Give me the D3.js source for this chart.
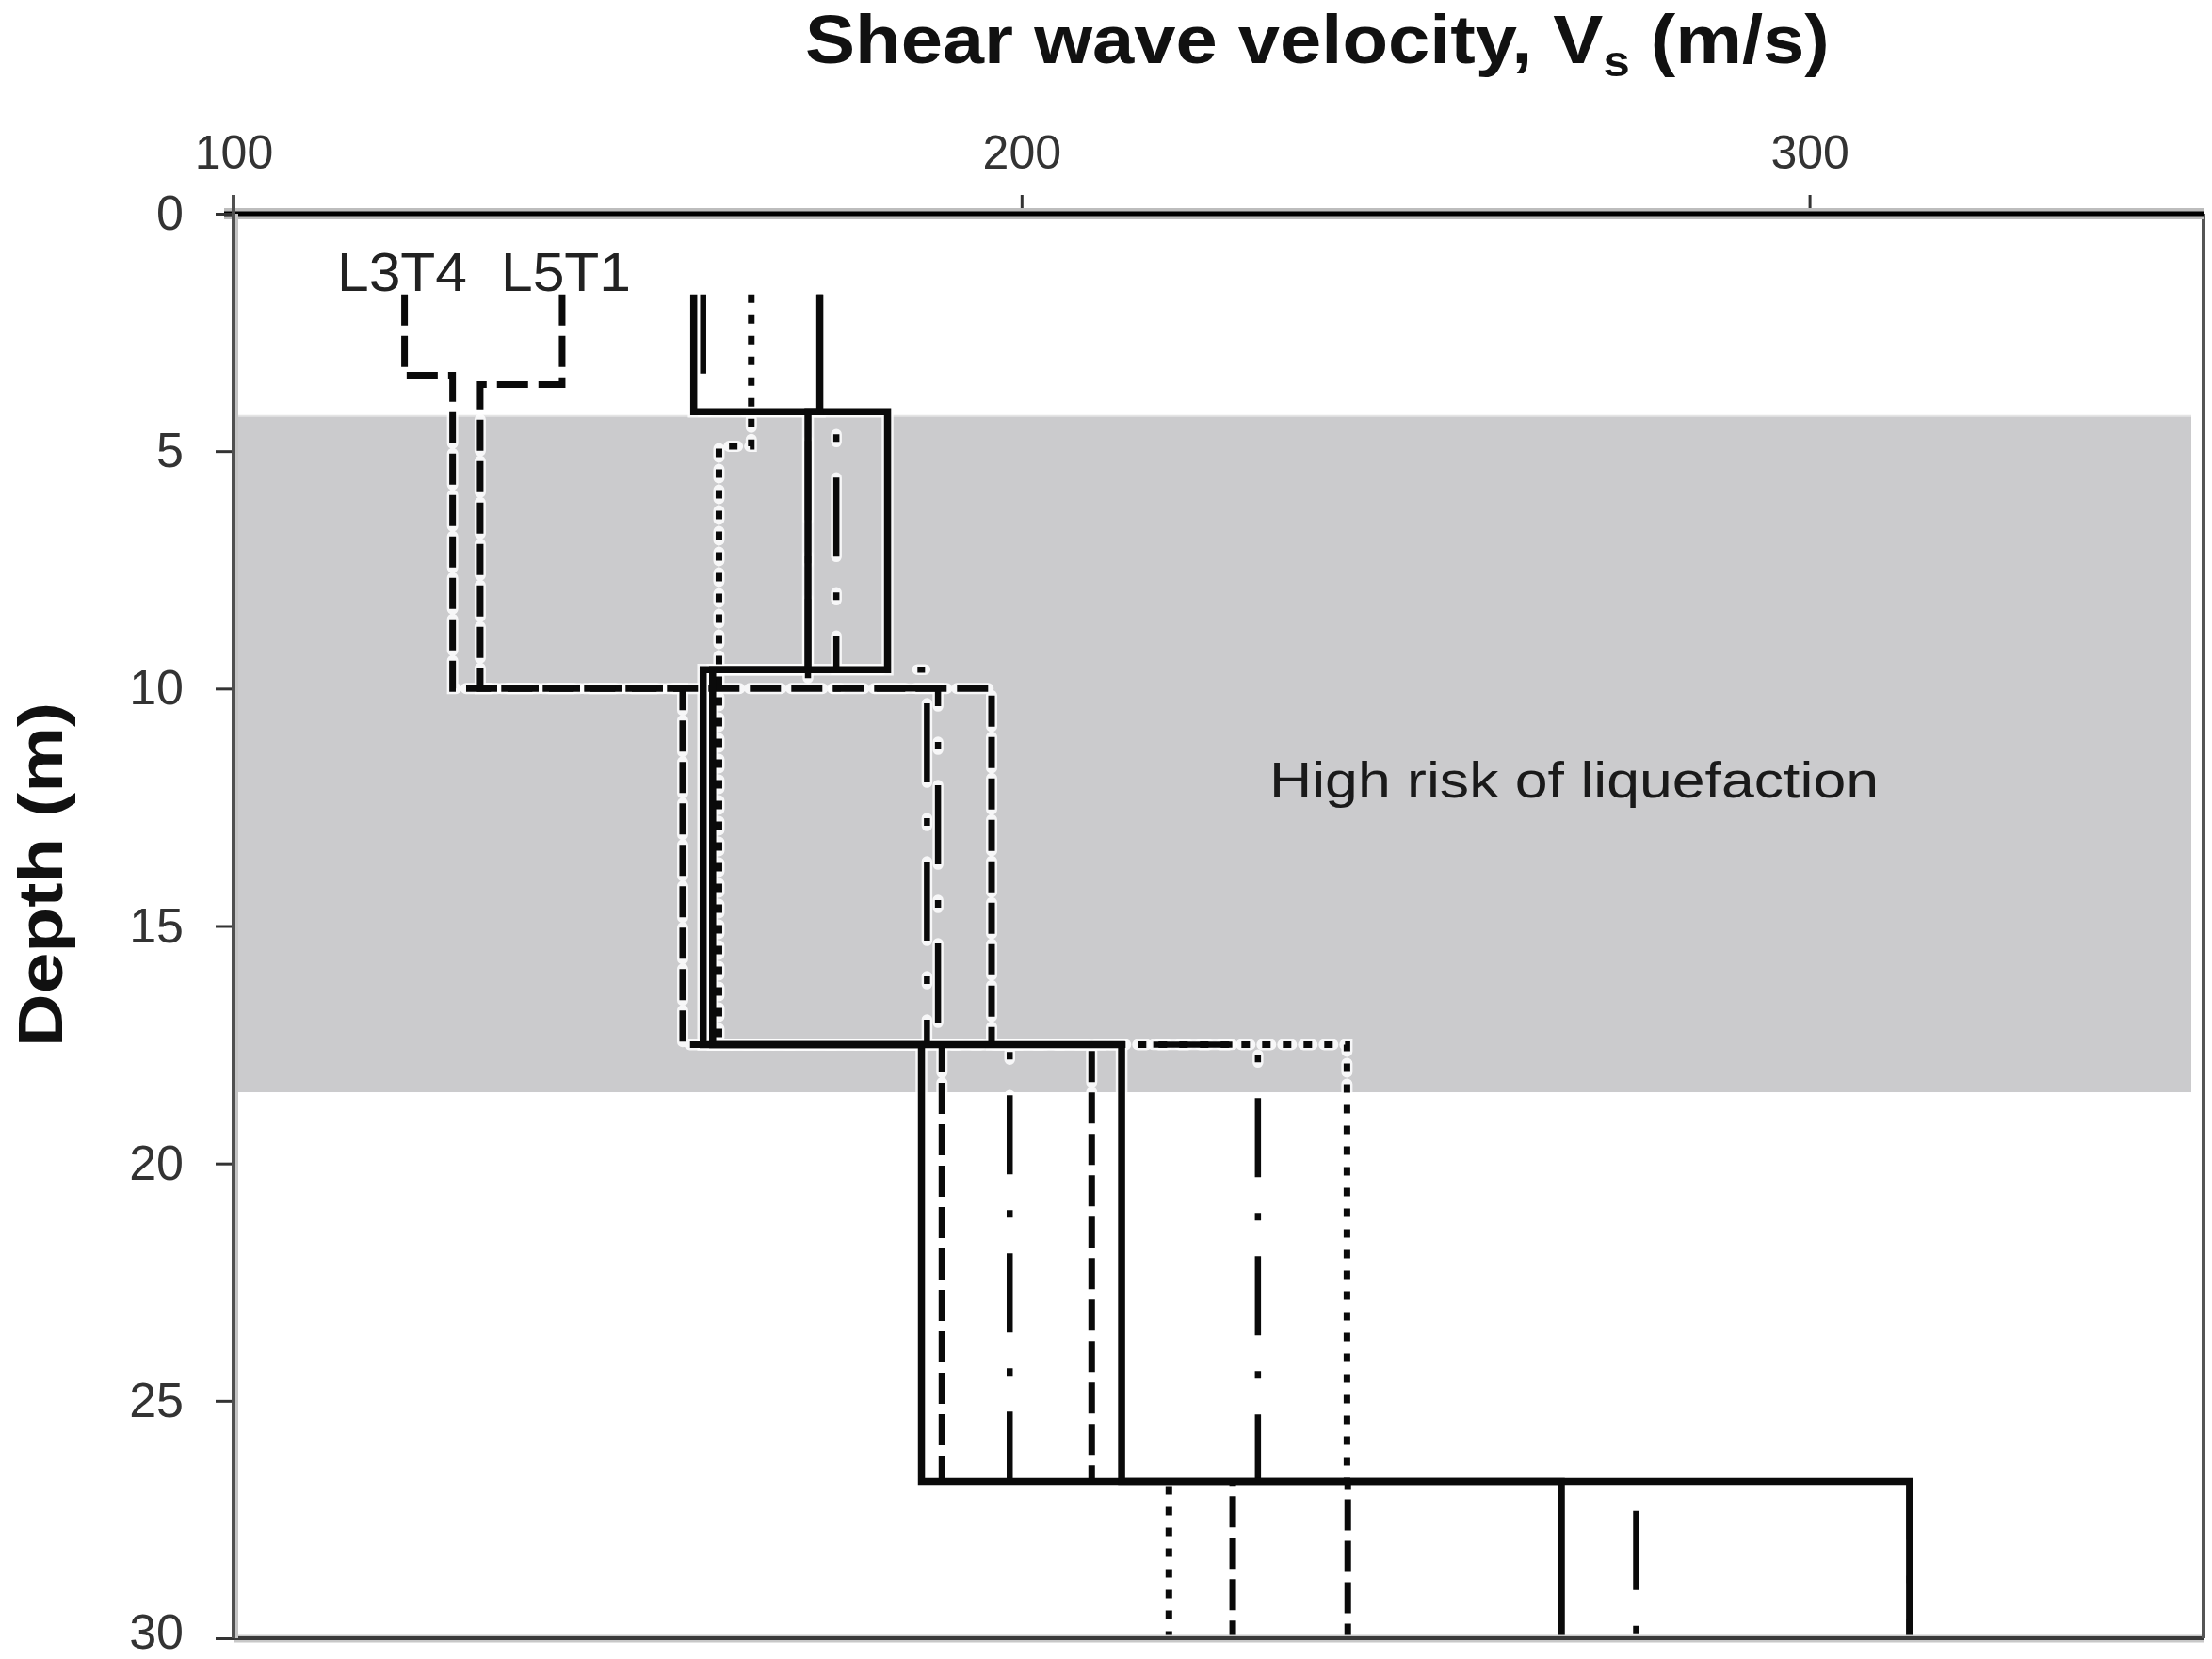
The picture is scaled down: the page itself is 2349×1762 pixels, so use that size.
<!DOCTYPE html>
<html><head><meta charset="utf-8">
<script src="https://cdn.jsdelivr.net/npm/d3@7"></script>
<style>
html,body{margin:0;padding:0;background:#fff;}
svg{display:block;}
</style></head>
<body>
<svg id="chart" width="2349" height="1762"></svg>
<script>
// ---------- data ----------
const xTicks = [100, 200, 300];
const yTicks = [0, 5, 10, 15, 20, 25, 30];
const xDomain = [100, 350];
const yDomain = [0, 30];
const riskZone = [4.26, 18.5];           // depth range of high risk band
const riskLabel = "High risk of liquefaction";

// each profile: layer boundary depths (m) and Vs per layer (m/s)
const L3T4_depths = [1.7, 3.4, 10.0, 17.5, 26.7, 30];
const L3T4_vs     = [121.7, 127.8, 157.0, 189.9, 226.8];
const L5T1_depths = [1.7, 3.6, 10.0, 17.5, 26.7, 30];
const L5T1_vs     = [141.7, 131.3, 196.2, 208.9, 241.4];
const solidA_depths = [1.7, 4.17, 9.6, 17.5, 26.7, 30];
const solidA_vs     = [158.4, 183.0, 159.6, 187.3, 268.5];
const solidB_depths = [1.7, 4.17, 9.6, 17.5, 26.7, 30];
const solidB_vs     = [174.4, 172.9, 160.8, 212.7, 312.7];
const dotted_depths = [1.7, 4.9, 17.5, 26.7, 30];
const dotted_vs     = [165.7, 161.6, 241.3, 218.7];
const ldd1_depths = [1.7, 4.17, 9.6, 17.5, 26.7, 30];
const ldd1_vs     = [159.6, 176.5, 188.0, 198.5, 312.7];
const ldd2_depths = [1.7, 4.17, 10.0, 17.5, 26.7, 30];
const ldd2_vs     = [174.4, 172.9, 189.4, 230.0, 278.0];

(function () {
const profiles = [
  {name:"L3T4", depths:L3T4_depths, vs:L3T4_vs, dash:"33,11", w:7},
  {name:"L5T1", depths:L5T1_depths, vs:L5T1_vs, dash:"33,11", w:7},
  {name:"A", depths:ldd1_depths, vs:ldd1_vs, dash:"84,38,8,38", w:6.5},
  {name:"B", depths:ldd2_depths, vs:ldd2_vs, dash:"84,38,8,38", w:6.5},
  {name:"C", depths:dotted_depths, vs:dotted_vs, dash:"9,13", w:7},
  {name:"D", depths:solidA_depths, vs:solidA_vs, dash:null, w:7.5},
  {name:"E", depths:solidB_depths, vs:solidB_vs, dash:null, w:7.5}
];

// ---------- layout ----------
const svg = d3.select("#chart");
const pL = 248, pT = 227, pR = 2340, pB = 1740;
const x = d3.scaleLinear().domain(xDomain).range([pL, pR]);
const y = d3.scaleLinear().domain(yDomain).range([pT, pB]);
const FONT = "Liberation Sans, Arial, sans-serif";

// risk band
svg.append("rect")
  .attr("x", pL).attr("y", y(riskZone[0]))
  .attr("width", 2327 - pL).attr("height", y(riskZone[1]) - y(riskZone[0]))
  .attr("fill", "#cbcbcd");
svg.append("line").attr("x1", pL).attr("x2", 2327)
  .attr("y1", y(riskZone[0])).attr("y2", y(riskZone[0]))
  .attr("stroke", "#e4e4e4").attr("stroke-width", 2);

svg.append("text")
  .attr("x", 1348).attr("y", 847)
  .attr("font-family", FONT)
  .attr("font-size", 54).attr("fill", "#1a1a1a")
  .attr("textLength", 647).attr("lengthAdjust", "spacingAndGlyphs")
  .text(riskLabel);

// profiles
const line = d3.line().x(d => x(d[0])).y(d => y(d[1]));
function stepPoints(p) {
  const pts = [];
  p.vs.forEach((v, i) => { pts.push([v, p.depths[i]]); pts.push([v, p.depths[i+1]]); });
  return pts;
}
const g = svg.append("g");
profiles.forEach(p => {
  const pts = stepPoints(p);
  g.append("path").attr("d", line(pts)).attr("fill", "none")
    .attr("stroke", "#fff").attr("stroke-opacity", 0.85)
    .attr("stroke-width", p.w + 5)
    .attr("stroke-dasharray", p.dash)
    .attr("stroke-linecap", p.dash ? "round" : "butt");
});
profiles.forEach(p => {
  const pts = stepPoints(p);
  g.append("path").attr("d", line(pts)).attr("fill", "none")
    .attr("stroke", "#0a0a0a").attr("stroke-width", p.w)
    .attr("stroke-dasharray", p.dash)
    .attr("stroke-linejoin", "miter");
});

// labels of two profiles
svg.append("text").attr("x", 358).attr("y", 309)
  .attr("font-family", FONT).attr("font-size", 58)
  .attr("fill", "#222").attr("textLength", 138).attr("lengthAdjust", "spacingAndGlyphs")
  .text("L3T4");
svg.append("text").attr("x", 532).attr("y", 309)
  .attr("font-family", FONT).attr("font-size", 58)
  .attr("fill", "#222").attr("textLength", 138).attr("lengthAdjust", "spacingAndGlyphs")
  .text("L5T1");

// frame: bottom and right
svg.append("line").attr("x1", pL).attr("x2", pR).attr("y1", pB).attr("y2", pB)
  .attr("stroke", "#c8c8c8").attr("stroke-width", 9);
svg.append("line").attr("x1", pL).attr("x2", pR).attr("y1", pB).attr("y2", pB)
  .attr("stroke", "#3a3a3a").attr("stroke-width", 4);
svg.append("line").attr("x1", pR).attr("x2", pR).attr("y1", pT).attr("y2", pB)
  .attr("stroke", "#555").attr("stroke-width", 4);

// axes
const xAxis = d3.axisTop(x).tickValues(xTicks).tickSize(20).tickPadding(28);
const gx = svg.append("g").attr("transform", `translate(0,${pT})`).call(xAxis);
gx.select(".domain").remove();
gx.selectAll(".tick line").attr("stroke", "#333").attr("stroke-width", 3);
gx.selectAll(".tick text").attr("font-family", FONT)
  .attr("font-size", 50).attr("fill", "#333");
svg.append("line").attr("x1", pL - 10).attr("x2", pR).attr("y1", pT).attr("y2", pT)
  .attr("stroke", "#bdbdbd").attr("stroke-width", 12);
svg.append("line").attr("x1", pL - 10).attr("x2", pR).attr("y1", pT).attr("y2", pT)
  .attr("stroke", "#000").attr("stroke-width", 5);

const yAxis = d3.axisLeft(y).tickValues(yTicks).tickSize(19).tickPadding(34);
const gy = svg.append("g").attr("transform", `translate(${pL},0)`).call(yAxis);
gy.select(".domain").remove();
gy.selectAll(".tick line").attr("stroke", "#333").attr("stroke-width", 3);
gy.selectAll(".tick text").attr("font-family", FONT)
  .attr("font-size", 52).attr("fill", "#333")
  .attr("dy", d => d === 30 ? "0.2em" : "0.32em");
svg.append("line").attr("x1", pL + 3).attr("x2", pL + 3).attr("y1", pT).attr("y2", pB)
  .attr("stroke", "#c4c4c4").attr("stroke-width", 4);
svg.append("line").attr("x1", pL).attr("x2", pL).attr("y1", pT - 20).attr("y2", pB)
  .attr("stroke", "#505050").attr("stroke-width", 4);

// titles
const title = svg.append("text").attr("x", 855).attr("y", 67)
  .attr("font-family", FONT).attr("font-weight", "bold")
  .attr("font-size", 72).attr("fill", "#111");
title.append("tspan").text("Shear wave velocity, V");
title.append("tspan").attr("font-size", 46).attr("dy", 14).text("s");
title.append("tspan").attr("dy", -14).text(" (m/s)");
const tl = title.node().getComputedTextLength();
title.attr("transform", `translate(855,0) scale(${1088 / tl},1) translate(-855,0)`);

svg.append("text")
  .attr("transform", "translate(66,929) rotate(-90)")
  .attr("text-anchor", "middle")
  .attr("font-family", FONT).attr("font-weight", "bold")
  .attr("font-size", 66).attr("fill", "#111")
  .attr("textLength", 366).attr("lengthAdjust", "spacingAndGlyphs")
  .text("Depth (m)");
})();
</script>
</body></html>
